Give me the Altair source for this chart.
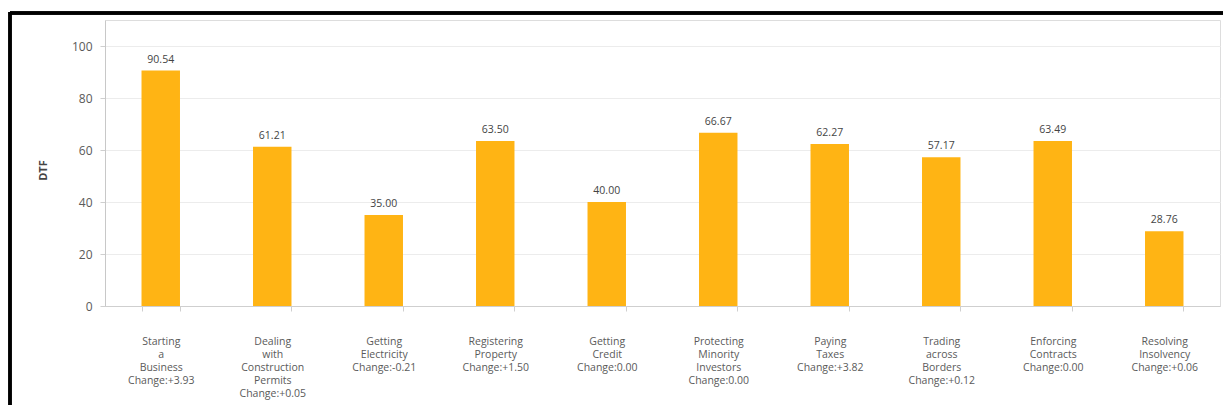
import altair as alt
import pandas as pd

categories = [
    "Starting\na\nBusiness\nChange:+3.93",
    "Dealing\nwith\nConstruction\nPermits\nChange:+0.05",
    "Getting\nElectricity\nChange:-0.21",
    "Registering\nProperty\nChange:+1.50",
    "Getting\nCredit\nChange:0.00",
    "Protecting\nMinority\nInvestors\nChange:0.00",
    "Paying\nTaxes\nChange:+3.82",
    "Trading\nacross\nBorders\nChange:+0.12",
    "Enforcing\nContracts\nChange:0.00",
    "Resolving\nInsolvency\nChange:+0.06",
]
dtf = [90.54, 61.21, 35.00, 63.50, 40.00, 66.67, 62.27, 57.17, 63.49, 28.76]
y_ticks = [0, 20, 40, 60, 80, 100]

df = pd.DataFrame({"topic": categories, "dtf": dtf})
df["lbl"] = [f"{v:.2f}" for v in dtf]

FONT = "Open Sans"

x_enc = alt.X(
    "topic:N",
    sort=None,
    scale=alt.Scale(paddingInner=0.655, paddingOuter=0.3275),
    axis=alt.Axis(
        title=None,
        labelAngle=0,
        labelExpr="split(datum.label, '\\n')",
        labelFont=FONT,
        labelFontSize=10.5,
        labelColor="#5a5a5a",
        labelLineHeight=13,
        labelBaseline="top",
        labelPadding=25,
        labelLimit=200,
        tickBand="extent",
        tickSize=5,
        tickColor="#cfcfcf",
        domainColor="#cfcfcf",
        grid=False,
    ),
)

y_enc = alt.Y(
    "dtf:Q",
    scale=alt.Scale(domain=[0, 110], nice=False),
    axis=alt.Axis(
        title="DTF",
        values=y_ticks,
        titleFont=FONT,
        titleFontSize=11,
        titleFontWeight="bold",
        titleColor="#444444",
        titleAngle=270,
        titleX=-62,
        titleY=150,
        titleAlign="center",
        titleBaseline="middle",
        labelFont=FONT,
        labelFontSize=12,
        labelColor="#5a5a5a",
        labelPadding=8,
        tickSize=5,
        tickColor="#cfcfcf",
        domainColor="#c8c8c8",
        gridColor="#ececec",
        gridWidth=1,
    ),
)

bars = alt.Chart(df).mark_bar(color="#FFB414").encode(x=x_enc, y=y_enc)

labels = alt.Chart(df).mark_text(
    font=FONT, fontSize=10.5, color="#444444", baseline="alphabetic", dy=-8
).encode(x=alt.X("topic:N", sort=None), y="dtf:Q", text="lbl:N")

frame_top = alt.Chart(df).mark_rule(color="#000000", strokeWidth=2.5).encode(
    x=alt.value(-95), x2=alt.value(1125), y=alt.value(-7)
)
frame_left = alt.Chart(df).mark_rule(color="#000000", strokeWidth=2.5).encode(
    x=alt.value(-95), y=alt.value(-8), y2=alt.value(400)
)

chart = (
    alt.layer(bars, labels, frame_top, frame_left)
    .properties(
        width=1115,
        height=286,
        autosize=alt.AutoSizeParams(type="none"),
        padding={"left": 97, "top": 12, "right": 3, "bottom": 99},
    )
    .configure_view(stroke=None)
    .configure(background="white")
)

chart.save("out.html", embed_options={"renderer": "svg", "actions": False})
